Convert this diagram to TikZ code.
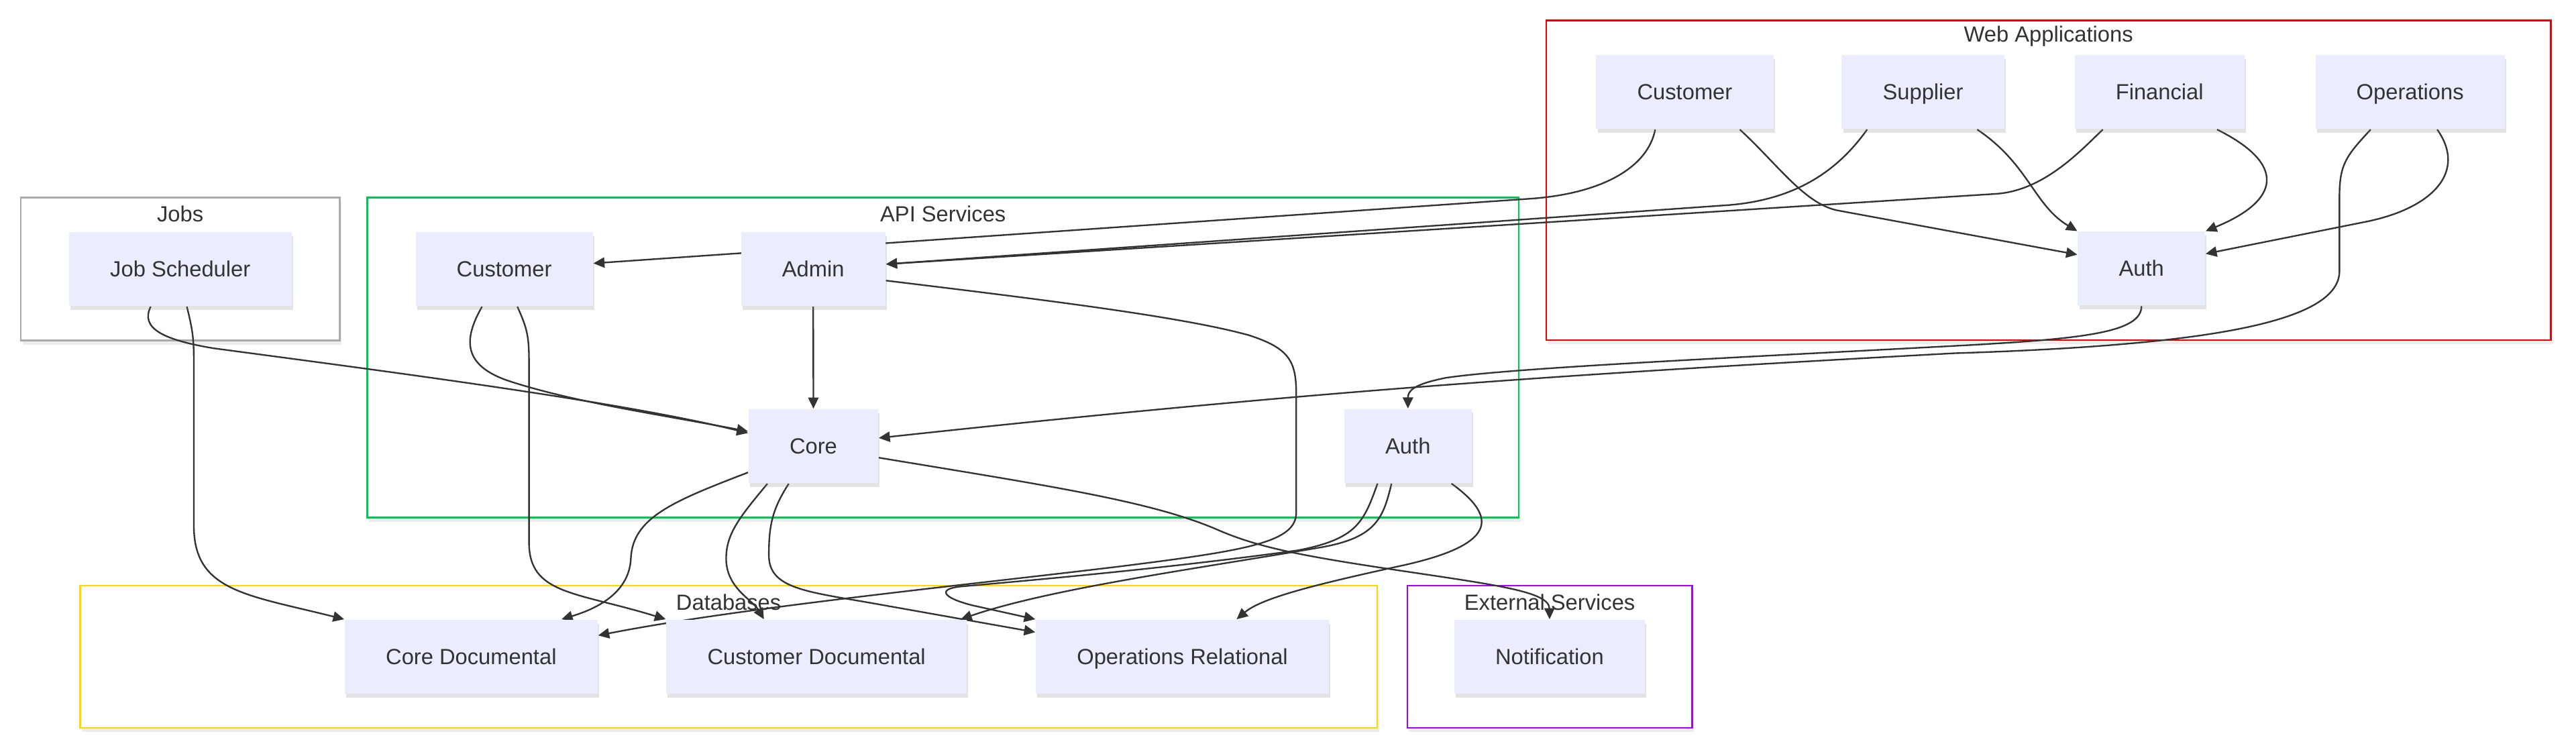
\documentclass[tikz,border=0pt]{standalone}
\usepackage{fontspec}
\setmainfont{Liberation Sans}
\usetikzlibrary{arrows.meta,calc,shadows}
\definecolor{boxfill}{HTML}{ECECFF}
\definecolor{ink}{HTML}{333333}
\definecolor{webred}{HTML}{EE0000}
\definecolor{apigreen}{HTML}{00C853}
\definecolor{dbgold}{HTML}{FFD600}
\definecolor{extviolet}{HTML}{AA00FF}
\definecolor{jobgray}{HTML}{AAAAAA}
\pgfdeclarelayer{clusters}
\pgfdeclarelayer{links}
\pgfsetlayers{clusters,links,main}

\begin{document}
\begin{tikzpicture}[x=0.02cm, y=-0.02cm, font=\fontsize{7.6}{9}\selectfont, text=ink,
	box/.style={fill=boxfill, minimum height=0.9cm, inner xsep=0.5cm, text height=0.72em, text depth=0.2em, drop shadow={shadow xshift=0.5pt, shadow yshift=-1.3pt, opacity=0.22}},
	group/.style={draw=#1, line width=0.6pt, fill=white, drop shadow={shadow xshift=0.6pt, shadow yshift=-1.5pt, opacity=0.14}},
	link/.style={draw=ink, line width=0.55pt, -{Triangle[length=1.35mm,width=1.25mm]}}]
	\useasboundingbox (0,0) rectangle (1568,457.7);
	\node[box] (wcust) at (1025.5,56) {Customer};
	\node[box] (wsupp) at (1170.5,56) {Supplier};
	\node[box] (wfin) at (1314.5,56) {Financial};
	\node[box] (wops) at (1467,56) {Operations};
	\node[box] (wauth) at (1303.5,163.5) {Auth};
	\node[box] (sched) at (109.75,163.8) {Job Scheduler};
	\node[box] (acust) at (306.9,163.8) {Customer};
	\node[box] (admin) at (495,163.8) {Admin};
	\node[box] (core) at (495.1,271.6) {Core};
	\node[box] (aauth) at (857,271.5) {Auth};
	\node[box] (cored) at (286.8,399.8) {Core Documental};
	\node[box] (custd) at (497,399.8) {Customer Documental};
	\node[box] (opsrel) at (719.7,399.8) {Operations Relational};
	\node[box] (notif) at (943.2,399.8) {Notification};
	\begin{pgfonlayer}{clusters}
		\draw[group=webred] (941.2,12.5) rectangle (1552.6,207);
		\draw[group=jobgray] (12.7,120.3) rectangle (206.7,207.3);
		\draw[group=apigreen] (223.5,120.3) rectangle (924.5,315.1);
		\draw[group=dbgold] (48.8,356.5) rectangle (838.3,443);
		\draw[group=extviolet] (856.6,356.5) rectangle (1030,443);
		\node (webtitle) at (1246.9,22) {Web Applications};
		\node (jobtitle) at (109.7,130) {Jobs};
		\node (apititle) at (574,130) {API Services};
		\node (dbtitle) at (443.5,366.5) {Databases};
		\node (exttitle) at (943.3,366.5) {External Services};
	\end{pgfonlayer}
	\begin{pgfonlayer}{links}
		\draw[link] ($(wcust.south)+(-18,0)$) .. controls (1003,102) and (975,118) .. (931,121) -- ($(acust.east)+(0,-3.5)$);
		\draw[link] ($(wcust.south)+(33.5,0)$) .. controls (1082,100) and (1098,123.5) .. (1118,128) -- ($(wauth.west)+(0,-8.5)$);
		\draw[link] ($(wsupp.south)+(-34,0)$) .. controls (1120,102) and (1095,122) .. (1050,125) -- ($(admin.east)+(0,-3)$);
		\draw[link] ($(wsupp.south)+(33,0)$) .. controls (1235,100) and (1238,125) .. (wauth.north west);
		\draw[link] ($(wfin.south)+(-34.5,0)$) .. controls (1268,90) and (1245,116) .. (1215,118) -- ($(admin.east)+(0,-3)$);
		\draw[link] ($(wfin.south)+(35,0)$) .. controls (1392,100) and (1388,122) .. (wauth.north east);
		\draw[link] ($(wops.south)+(16.5,0)$) .. controls (1502,105) and (1480,127) .. (1440,135) -- ($(wauth.east)+(0,-9)$);
		\draw[link] ($(wops.south)+(-24,0)$) .. controls (1428,95) and (1424,100) .. (1424,120) -- (1424,165) .. controls (1424,195) and (1350,210) .. (1190,215) .. controls (950,228) and (800,238) .. ($(core.east)+(0,-5)$);
		\draw[link] (wauth.south) .. controls (1303.5,202) and (1270,206) .. (1200,210) .. controls (1050,218) and (920,224) .. (880,230) .. controls (860,234) and (857,238) .. (aauth.north);
		\draw[link] (admin.south) -- (core.north);
		\draw[link] ($(admin.east)+(0,7)$) .. controls (640,183) and (720,193) .. (760,204) .. controls (785,212) and (789,220) .. (789,240) -- (789,312) .. controls (789,330) and (760,335) .. (680,345) .. controls (580,357) and (450,370) .. ($(cored.east)+(0,-13)$);
		\draw[link] ($(sched.south)+(-18,0)$) .. controls (85,200) and (100,207) .. (130,212) .. controls (250,228) and (380,245) .. ($(core.west)+(0,-8)$);
		\draw[link] ($(sched.south)+(4,0)$) .. controls (117,200) and (118,205) .. (118,220) -- (118,320) .. controls (118,360) and (150,362) .. (cored.north west);
		\draw[link] ($(acust.south)+(-13.5,0)$) .. controls (283,205) and (280,222) .. (310,232) .. controls (350,245) and (400,252) .. ($(core.west)+(0,-9)$);
		\draw[link] ($(acust.south)+(8,0)$) .. controls (321,200) and (322,205) .. (322,220) -- (322,330) .. controls (322,362) and (350,360) .. (custd.north west);
		\draw[link] ($(core.west)+(0,16)$) .. controls (410,305) and (385,315) .. (384,340) .. controls (383,360) and (365,370) .. ($(cored.north)+(55,0)$);
		\draw[link] ($(core.south)+(-28,0)$) .. controls (450,315) and (442,325) .. (442,340) .. controls (442,358) and (458,365) .. ($(custd.north)+(-32,0)$);
		\draw[link] ($(core.south)+(-15,0)$) .. controls (470,310) and (468,320) .. (468,338) .. controls (468,358) and (490,360) .. (530,367) -- ($(opsrel.west)+(0,-15)$);
		\draw[link] ($(core.east)+(0,7)$) .. controls (640,296) and (700,305) .. (740,322) .. controls (765,333) and (790,338) .. (850,347) .. controls (910,356) and (943,360) .. (notif.north);
		\draw[link] ($(aauth.south)+(-10,0)$) .. controls (842,315) and (838,327) .. (805,333) .. controls (730,346) and (640,358) .. ($(custd.north east)+(-4,0)$);
		\draw[link] ($(aauth.south)+(-18.5,0)$) .. controls (830,318) and (826,328) .. (790,335) .. controls (710,346) and (630,353) .. (585,357) .. controls (570,358.5) and (574,364) .. (592,368.5) -- (opsrel.north west);
		\draw[link] ($(aauth.south)+(26.5,0)$) .. controls (912,315) and (912,332) .. (850,345) .. controls (800,356) and (768,364) .. ($(opsrel.north)+(33,0)$);
	\end{pgfonlayer}
\end{tikzpicture}
\end{document}
